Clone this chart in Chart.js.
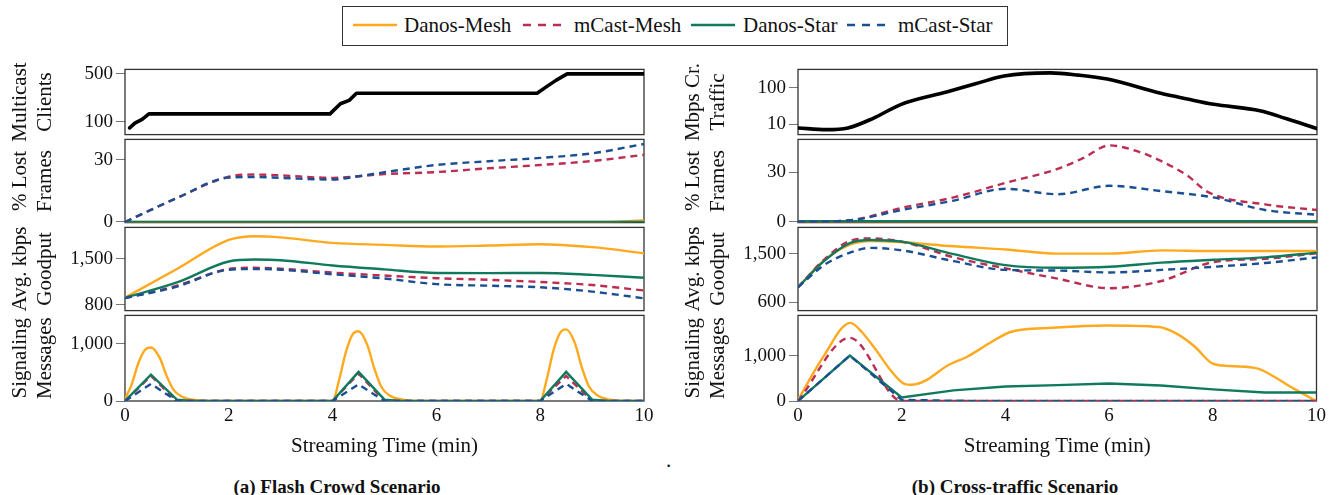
<!DOCTYPE html>
<html>
<head>
<meta charset="utf-8">
<title>Flash crowd and cross-traffic</title>
<script src="https://cdn.jsdelivr.net/npm/chart.js@4.4.1/dist/chart.umd.min.js"></script>
<style>
  body { margin: 0; width: 1330px; height: 495px; background: #fff; position: relative; overflow: hidden;
         font-family: "Liberation Serif", "DejaVu Serif", serif; color: #111; }
  canvas { position: absolute; }
  #legend { position: absolute; left: 342px; top: 6px; width: 664px; height: 38px; border: 1.3px solid #333; }
  #legend svg, #legend span { position: absolute; }
  #legend span { font-size: 21px; top: 5px; line-height: 26px; white-space: nowrap; }
  .caption { position: absolute; top: 476px; font-weight: bold; font-size: 19px; white-space: nowrap; transform: translateX(-50%); }
</style>
</head>
<body>
<div id="legend"></div>
<div class="caption" style="left:337px">(a) Flash Crowd Scenario</div>
<div class="caption" style="left:1015px">(b) Cross-traffic Scenario</div>
<div style="position:absolute;left:666px;top:448px;font-size:21px">.</div>
<script>
const seriesNames = ['Danos-Mesh', 'mCast-Mesh', 'Danos-Star', 'mCast-Star'];
const seriesColors = ['#FFA91F', '#BD2D52', '#127A5C', '#1B4F93'];
const seriesDashed = [false, true, false, true];
const timeTicks = [0, 2, 4, 6, 8, 10];

// (a) flash crowd
const flashClientTime = [0.09, 0.19, 0.33, 0.46, 3.95, 4.15, 4.32, 4.46, 7.94, 8.11, 8.31, 8.52, 10];
const flashClients = [81, 95, 108, 130, 130, 183, 205, 260, 260, 320, 405, 500, 500];

const flashLostTime = [0, 1, 2, 2.5, 3, 4, 4.5, 5, 6, 7, 8, 9, 10];
const flashLostDanosMesh = [0, 0, 0, 0, 0, 0, 0, 0, 0, 0, 0, 0, 0.7];
const flashLostMcastMesh = [0, 11.5, 21.8, 22.8, 22.4, 21.2, 22, 23, 24, 25.8, 27.4, 29.3, 32.3];
const flashLostDanosStar = [0, 0, 0, 0, 0, 0, 0, 0, 0, 0, 0, 0, 0];
const flashLostMcastStar = [0, 11.5, 21.3, 21.6, 21.2, 20.4, 22, 23.9, 27.4, 29.2, 30.8, 33, 37.5];

const flashGoodTime = [0, 1, 2, 2.5, 3, 4, 5, 6, 7, 8, 9, 10];
const flashGoodDanosMesh = [907, 1345, 1790, 1847, 1830, 1745, 1715, 1690, 1705, 1725, 1680, 1587];
const flashGoodMcastMesh = [900, 1090, 1345, 1364, 1350, 1290, 1245, 1205, 1180, 1147, 1100, 1017];
const flashGoodDanosStar = [907, 1140, 1460, 1490, 1480, 1400, 1340, 1285, 1283, 1285, 1255, 1211];
const flashGoodMcastStar = [900, 1075, 1335, 1346, 1335, 1265, 1200, 1114, 1090, 1066, 1000, 897];

const flashSigMeshTime = [0, 0.12, 0.26, 0.38, 0.5, 0.67, 0.8, 0.94, 1.1, 1.35, 1.6,
  4, 4.12, 4.26, 4.38, 4.5, 4.67, 4.8, 4.94, 5.1, 5.35, 5.6,
  8, 8.12, 8.26, 8.38, 8.5, 8.67, 8.8, 8.94, 9.1, 9.35, 9.6, 10];
const flashSigDanosMesh = [40, 270, 670, 890, 937, 755, 445, 190, 75, 17, 0,
  0, 350, 870, 1160, 1222, 980, 580, 245, 95, 22, 0,
  0, 360, 900, 1190, 1255, 1010, 595, 255, 100, 22, 0, 0];
const flashSigTime = [0, 0.5, 1, 1.3, 4, 4.5, 5, 5.3, 8, 8.5, 9, 9.3, 10];
const flashSigMcastMesh = [0, 440, 0, 0, 0, 480, 0, 0, 0, 440, 0, 0, 0];
const flashSigDanosStar = [0, 460, 25, 0, 0, 511, 25, 0, 0, 511, 25, 0, 0];
const flashSigMcastStar = [0, 300, 0, 0, 0, 290, 0, 0, 0, 300, 0, 0, 0];

// (b) cross traffic
const crossTrafficTime = [0, 0.55, 0.96, 1.44, 1.99, 2.88, 3.42, 3.97, 4.86, 5.4, 5.96, 6.99, 7.5, 8.01, 8.9, 9.4, 10];
const crossTraffic = [7.9, 7.1, 7.9, 14.3, 35, 77, 127, 208, 253, 220, 171, 70, 49, 35, 23.4, 14.3, 7.6];

const crossLostMeshTime = [0, 1, 2, 3, 4, 5, 5.5, 6, 6.5, 7, 7.5, 7.9, 9, 10];
const crossLostMcastMesh = [0, 1, 8.5, 14.8, 23.6, 32, 38.6, 46.2, 43, 36.7, 28, 18, 10.6, 7.2];
const crossLostTime = [0, 1, 2, 3, 4, 5, 6, 7, 8, 9, 10];
const crossLostDanosMesh = [0.3, 0.3, 0.3, 0.3, 0.3, 0.3, 0.3, 0.3, 0.3, 0.3, 0.3];
const crossLostDanosStar = [0.5, 0.5, 0.5, 0.5, 0.5, 0.5, 0.5, 0.5, 0.5, 0.5, 0.5];
const crossLostMcastStar = [0, 1, 7.2, 12.9, 20, 16.7, 21.8, 18.6, 14.8, 7.2, 4.3];

const crossGoodTime = [0, 0.5, 1, 1.4, 2, 3, 4, 5, 6, 7, 8, 9, 10];
const crossGoodDanosMesh = [880, 1377, 1670, 1740, 1716, 1640, 1582, 1505, 1505, 1565, 1553, 1553, 1553];
const crossGoodMcastMesh = [880, 1390, 1740, 1786, 1728, 1435, 1231, 1040, 863, 996, 1347, 1407, 1512];
const crossGoodDanosStar = [880, 1365, 1700, 1758, 1728, 1495, 1290, 1242, 1260, 1337, 1390, 1435, 1523];
const crossGoodMcastStar = [880, 1290, 1523, 1611, 1565, 1365, 1202, 1190, 1155, 1202, 1260, 1330, 1435];

const crossSigMeshTime = [0, 0.48, 1.01, 1.23, 1.5, 1.77, 2.05, 2.18, 2.46, 2.87, 3.28, 3.69, 4.1, 4.91, 5.94, 6.96, 7.3, 7.65, 7.99, 8.33, 8.87, 9.15, 9.56, 10];
const crossSigDanosMesh = [20, 960, 1720, 1520, 1128, 700, 379, 358, 450, 771, 985, 1270, 1520, 1612, 1663, 1630, 1484, 1200, 829, 771, 713, 557, 272, 0];
const crossSigTime = [0, 1, 2, 3, 4, 5, 6, 7, 8, 9, 10];
const crossSigMcastMesh = [0, 1390, 0, 0, 0, 0, 0, 0, 0, 0, 0];
const crossSigDanosStar = [0, 1000, 80, 235, 320, 350, 385, 342, 257, 186, 186];
const crossSigMcastStar = [0, 1000, 25, 5, 0, 0, 0, 0, 0, 0, 0];

// ---- layout ----
const AXIS_W = 117.5;
const panels = [
  { x: 0, plotLeft: 125, plotRight: 644 },
  { x: 665, plotLeft: 798, plotRight: 1317 }
];
const rows = [[67, 137], [137, 225], [225, 313], [313, 401]];

Chart.defaults.font.family = '"Liberation Serif", "DejaVu Serif", serif';
Chart.defaults.color = '#111';

// legend
const legend = document.getElementById('legend');
const legendPos = [[10, 61], [180, 231], [348, 400], [504, 555]];
seriesNames.forEach((name, i) => {
  const dash = seriesDashed[i] ? ' stroke-dasharray="8 7"' : '';
  legend.insertAdjacentHTML('beforeend',
    `<svg style="left:${legendPos[i][0]}px;top:16px" width="44" height="4"><line x1="0" y1="2" x2="44" y2="2" stroke="${seriesColors[i]}" stroke-width="2.6"${dash}/></svg>` +
    `<span style="left:${legendPos[i][1]}px">${name}</span>`);
});

// box around each plot area
const frame = {
  id: 'frame',
  beforeDatasetsDraw(chart) {
    const a = chart.chartArea, ctx = chart.ctx;
    ctx.save();
    ctx.strokeStyle = '#333';
    ctx.lineWidth = 1.3;
    ctx.strokeRect(a.left, a.top, a.right - a.left, a.bottom - a.top);
    ctx.restore();
  }
};

function series(i, xs, ys, smooth) {
  return {
    label: seriesNames[i],
    data: xs.map((x, k) => ({ x: x, y: ys[k] })),
    borderColor: seriesColors[i],
    borderWidth: 2.4,
    borderDash: seriesDashed[i] ? [7, 5] : [],
    cubicInterpolationMode: smooth ? 'monotone' : 'default',
    tension: 0,
    pointRadius: 0,
    order: 4 - i
  };
}

function blackLine(xs, ys, smooth) {
  return {
    data: xs.map((x, k) => ({ x: x, y: ys[k] })),
    borderColor: '#000',
    borderWidth: 3.6,
    borderJoinStyle: 'round',
    borderCapStyle: 'round',
    cubicInterpolationMode: smooth ? 'monotone' : 'default',
    tension: 0,
    pointRadius: 0
  };
}

function plot(panel, row, y, datasets) {
  const bottom = row === 3;
  const top = rows[row][0], h = rows[row][1] - rows[row][0];
  const cv = document.createElement('canvas');
  cv.width = 665;
  cv.height = 12 + h + (bottom ? 60 : 12);
  cv.style.left = panel.x + 'px';
  cv.style.top = (top - 12) + 'px';
  document.body.appendChild(cv);

  new Chart(cv, {
    type: 'line',
    data: { datasets: datasets },
    options: {
      responsive: false,
      animation: false,
      devicePixelRatio: 1,
      layout: { padding: { left: panel.plotLeft - AXIS_W - panel.x, right: panel.x + 665 - panel.plotRight, top: 12, bottom: bottom ? 0 : 12 } },
      plugins: { legend: { display: false }, tooltip: { enabled: false } },
      scales: {
        x: {
          type: 'linear', min: 0, max: 10, display: bottom,
          afterBuildTicks: s => { s.ticks = timeTicks.map(v => ({ value: v })); },
          afterFit: s => { if (bottom) s.height = 60; },
          ticks: { font: { size: 19 }, padding: 4, maxRotation: 0, color: '#111' },
          grid: { display: false, drawTicks: false },
          border: { display: false },
          title: { display: true, text: 'Streaming Time (min)', font: { size: 21, lineHeight: 1.2 }, padding: { top: 0, bottom: 2 }, color: '#111' }
        },
        y: {
          type: y.log ? 'logarithmic' : 'linear',
          min: y.min, max: y.max,
          afterFit: s => { s.width = AXIS_W; },
          afterBuildTicks: s => { s.ticks = y.ticks.map(v => ({ value: v })); },
          ticks: { font: { size: 19 }, padding: 3, color: '#111', callback: v => Number(v).toLocaleString('en-US') },
          grid: { drawOnChartArea: false, drawTicks: true, tickLength: 9, color: '#777', lineWidth: 1 },
          border: { display: false },
          title: { display: true, text: y.title, font: { size: 21, lineHeight: 1.19 }, padding: 0, color: '#111' }
        }
      }
    },
    plugins: [frame]
  });
}

const L = panels[0], R = panels[1];

plot(L, 0, { log: true, min: 64.7, max: 581, ticks: [100, 500], title: ['Multicast', 'Clients'] },
  [blackLine(flashClientTime, flashClients, false)]);
plot(L, 1, { min: -0.3, max: 39.7, ticks: [0, 30], title: ['% Lost', 'Frames'] }, [
  series(0, flashLostTime, flashLostDanosMesh, true),
  series(1, flashLostTime, flashLostMcastMesh, true),
  series(2, flashLostTime, flashLostDanosStar, true),
  series(3, flashLostTime, flashLostMcastStar, true)]);
plot(L, 2, { min: 709, max: 1982, ticks: [800, 1500], title: ['Avg. kbps', 'Goodput'] }, [
  series(0, flashGoodTime, flashGoodDanosMesh, true),
  series(1, flashGoodTime, flashGoodMcastMesh, true),
  series(2, flashGoodTime, flashGoodDanosStar, true),
  series(3, flashGoodTime, flashGoodMcastStar, true)]);
plot(L, 3, { min: 0, max: 1500, ticks: [0, 1000], title: ['Signaling', 'Messages'] }, [
  series(0, flashSigMeshTime, flashSigDanosMesh, true),
  series(1, flashSigTime, flashSigMcastMesh, false),
  series(2, flashSigTime, flashSigDanosStar, false),
  series(3, flashSigTime, flashSigMcastStar, false)]);

plot(R, 0, { log: true, min: 5.2, max: 315, ticks: [10, 100], title: ['Mbps Cr.', 'Traffic'] },
  [blackLine(crossTrafficTime, crossTraffic, true)]);
plot(R, 1, { min: -0.4, max: 49.8, ticks: [0, 30], title: ['% Lost', 'Frames'] }, [
  series(0, crossLostTime, crossLostDanosMesh, true),
  series(1, crossLostMeshTime, crossLostMcastMesh, true),
  series(2, crossLostTime, crossLostDanosStar, true),
  series(3, crossLostTime, crossLostMcastStar, true)]);
plot(R, 2, { min: 447, max: 1991, ticks: [600, 1500], title: ['Avg. kbps', 'Goodput'] }, [
  series(0, crossGoodTime, crossGoodDanosMesh, true),
  series(1, crossGoodTime, crossGoodMcastMesh, true),
  series(2, crossGoodTime, crossGoodDanosStar, true),
  series(3, crossGoodTime, crossGoodMcastStar, true)]);
plot(R, 3, { min: 0, max: 1885, ticks: [0, 1000], title: ['Signaling', 'Messages'] }, [
  series(0, crossSigMeshTime, crossSigDanosMesh, true),
  series(1, crossSigTime, crossSigMcastMesh, true),
  series(2, crossSigTime, crossSigDanosStar, false),
  series(3, crossSigTime, crossSigMcastStar, false)]);
</script>
</body>
</html>
